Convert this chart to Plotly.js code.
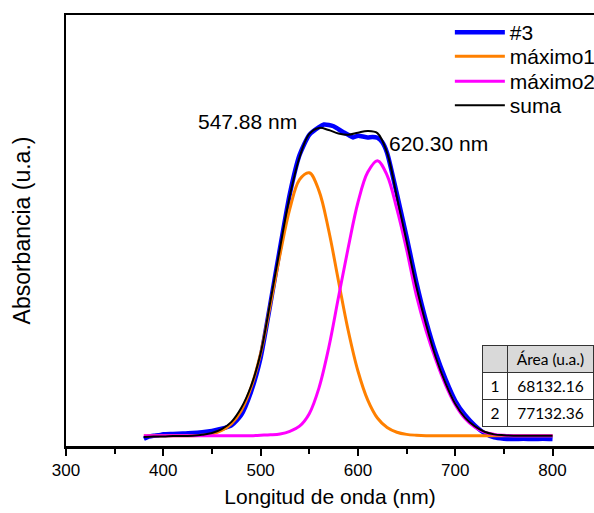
<!DOCTYPE html>
<html>
<head>
<meta charset="utf-8">
<script src="https://cdn.plot.ly/plotly-3.0.1.min.js"></script>
<style>html,body{margin:0;padding:0;background:#fff;}#chart{width:594px;height:513px;}</style>
</head>
<body>
<div id="chart"></div>
<script>
// Wavelength grid for fitted curves (nm)
const wl = [380,390,400,410,420,430,440,450,460,470,480,490,500,510,520,530,540,550,560,570,580,590,600,610,620,630,640,650,660,670,680,690,700,710,720,730,740,750,760,770,780,790,800];
// máximo1 (orange)
const max1 = [0.024,0.024,0.024,0.024,0.024,0.024,0.025,0.028,0.036,0.052,0.082,0.135,0.215,0.328,0.445,0.550,0.618,0.634,0.592,0.500,0.383,0.268,0.174,0.107,0.065,0.043,0.032,0.027,0.025,0.024,0.024,0.024,0.024,0.024,0.024,0.024,0.024,0.024,0.024,0.024,0.024,0.024,0.024];
// máximo2 (magenta)
const max2 = [0.024,0.024,0.024,0.024,0.024,0.024,0.024,0.024,0.024,0.024,0.024,0.024,0.025,0.026,0.028,0.034,0.046,0.075,0.135,0.228,0.345,0.460,0.565,0.635,0.662,0.628,0.550,0.456,0.350,0.268,0.200,0.142,0.096,0.064,0.044,0.032,0.027,0.025,0.024,0.024,0.024,0.024,0.024];
// suma (black)
const suma = [0.021,0.022,0.022,0.023,0.023,0.024,0.026,0.030,0.039,0.056,0.088,0.138,0.215,0.335,0.460,0.580,0.670,0.724,0.738,0.733,0.725,0.722,0.727,0.731,0.726,0.680,0.578,0.475,0.370,0.282,0.206,0.146,0.098,0.066,0.046,0.033,0.027,0.025,0.024,0.024,0.024,0.024,0.024];
// measured spectrum #3 (blue)
const wl3 = [380,385,390,395,400,410,420,430,440,450,460,470,480,490,500,510,520,530,540,550,560,565,570,575,580,585,590,595,600,605,610,615,620,625,630,640,650,660,670,680,690,700,710,720,730,740,750,760,770,780,790,800];
const abs3 = [0.017,0.022,0.024,0.025,0.027,0.028,0.029,0.030,0.032,0.035,0.040,0.048,0.072,0.125,0.205,0.330,0.460,0.585,0.675,0.722,0.740,0.746,0.745,0.742,0.735,0.728,0.722,0.716,0.720,0.718,0.716,0.717,0.715,0.705,0.680,0.585,0.485,0.380,0.290,0.215,0.155,0.105,0.072,0.048,0.030,0.020,0.017,0.016,0.017,0.016,0.017,0.016];
// peak labels
const peakText = ["547.88 nm", "620.30 nm"];
const peakX = [487, 683];
const peakY = [0.753, 0.702];
// table
const tblHeader = ["", "Área\u00a0(u.a.)"];
const tblIdx = ["1", "2"];
const tblArea = ["68132.16", "77132.36"];

const F = "Arial, 'Liberation Sans', sans-serif";
const TF = "Lato, 'Open Sans', sans-serif";
const traces = [
  {x: wl3, y: abs3, type: 'scatter', mode: 'lines', name: '#3', legend: 'legend', line: {color: '#0000ff', width: 4.5, shape: 'spline', smoothing: 0.6}},
  {x: wl, y: max1, type: 'scatter', mode: 'lines', name: 'máximo1', legend: 'legend2', line: {color: '#ff8000', width: 3, shape: 'spline'}},
  {x: wl, y: max2, type: 'scatter', mode: 'lines', name: 'máximo2', legend: 'legend3', line: {color: '#ff00ff', width: 3, shape: 'spline'}},
  {x: wl, y: suma, type: 'scatter', mode: 'lines', name: 'suma', legend: 'legend4', line: {color: '#000000', width: 2, shape: 'spline'}},
  {type: 'table', domain: {x: [0.788, 1], y: [0.04, 0.233]},
   columnwidth: [26, 86],
   header: {values: tblHeader, fill: {color: '#d9d9d9'}, line: {color: '#333', width: 1}, height: 27, align: 'center', font: {family: TF, size: 15.5, color: '#000'}},
   cells: {values: [tblIdx, tblArea], fill: {color: '#ffffff'}, line: {color: '#333', width: 1}, height: 27, align: 'center', font: {family: TF, size: 15.5, color: '#000'}},
   showlegend: false}
];
const legBase = {x: 0.727, xanchor: 'left', yanchor: 'middle', bgcolor: 'rgba(0,0,0,0)', font: {size: 21}, itemwidth: 50};
const layout = {
  width: 594, height: 513,
  margin: {l: 66, r: 0, t: 15, b: 67, autoexpand: false},
  paper_bgcolor: '#fff', plot_bgcolor: '#fff',
  font: {family: F, size: 17, color: '#000'},
  showlegend: true,
  xaxis: {range: [300, 842.6], tickvals: [300,400,500,600,700,800], ticktext: ['300','400','500','600','700','800'],
    ticks: 'outside', ticklen: 7, tickwidth: 2, tickcolor: '#000',
    minor: {tickvals: [350,450,550,650,750], ticks: 'outside', ticklen: 5, tickwidth: 2, tickcolor: '#000'},
    showline: true, linewidth: 2.5, linecolor: '#000', mirror: true,
    showgrid: false, zeroline: false, tickfont: {size: 17}, automargin: false,
    title: {text: 'Longitud de onda (nm)', font: {size: 21}, standoff: 11}},
  yaxis: {range: [0, 1], showline: true, linewidth: 2.5, linecolor: '#000', showticklabels: false, ticks: '',
    showgrid: false, zeroline: false, automargin: false,
    title: {text: 'Absorbancia (u.a.)', font: {size: 23}, standoff: 27}},
  legend: Object.assign({}, legBase, {y: 0.9594}),
  legend2: Object.assign({}, legBase, {y: 0.9037}),
  legend3: Object.assign({}, legBase, {y: 0.8457}),
  legend4: Object.assign({}, legBase, {y: 0.790}),
  annotations: [
    {x: peakX[0], y: peakY[0], text: peakText[0], showarrow: false, font: {size: 21}},
    {x: peakX[1], y: peakY[1], text: peakText[1], showarrow: false, font: {size: 21}}
  ]
};
Plotly.newPlot('chart', traces, layout, {displayModeBar: false, staticPlot: true});
</script>
</body>
</html>
